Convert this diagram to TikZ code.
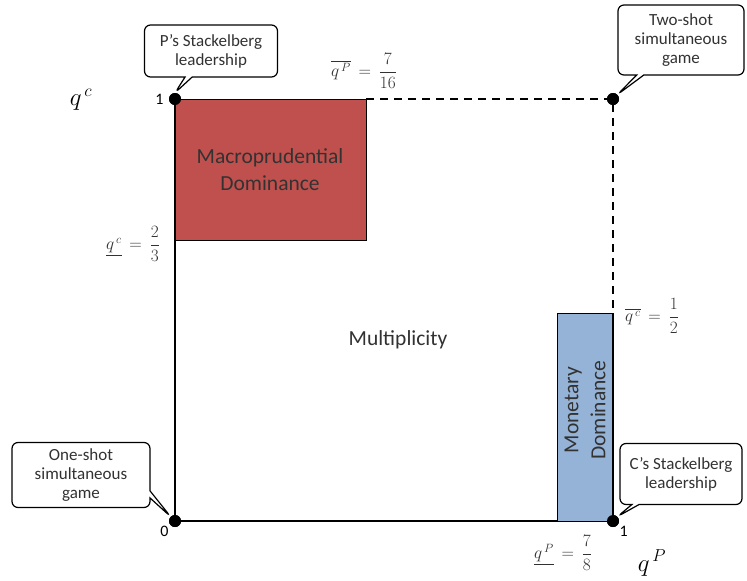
\documentclass[tikz,border=0pt]{standalone}
\usepackage{amsmath}
\usepackage{fontspec}
\setmainfont{Carlito}
\usetikzlibrary{shapes.callouts,positioning}
\definecolor{domred}{RGB}{192,80,77}
\definecolor{domblue}{RGB}{149,179,215}
\definecolor{txt}{RGB}{50,50,50}

\begin{document}
\begin{tikzpicture}[x=1pt,y=1pt,yscale=-1,
  dot/.style={circle,fill=black,inner sep=0pt,minimum size=12pt},
  bubble/.style={rectangle callout,draw,line width=1.2pt,rounded corners=6pt,fill=white,
    align=center,inner sep=2pt,text=txt,font=\fontsize{17}{19}\selectfont},
  lbl/.style={inner sep=1pt,font=\fontsize{16}{18}\selectfont},
  eqn/.style={inner sep=1pt,text=txt,font=\fontsize{16.5}{18}\selectfont}]
\useasboundingbox (0,0) rectangle (747,581);

%Shape: Corners of the unit square
\node[dot] (o) at (175,521) {};
\node[dot] (tl) at (175,99) {};
\node[dot] (tr) at (613,99) {};
\node[dot] (br) at (613,521) {};
\coordinate (pbar) at (366,99);
\coordinate (cbar) at (613,313);

%Straight Lines: axes and bounds
\draw[line width=1.6pt] (tl.center) -- (o.center) -- (br.center);
\draw[line width=1.6pt,dashed,dash pattern=on 8pt off 6pt] (pbar) -- (tr.center) -- (cbar);

%Shape: Macroprudential region
\draw[fill=domred,line width=1pt] (175,99) rectangle (366,240);
%Shape: Monetary region
\draw[fill=domblue,line width=1pt] (557,313) rectangle (613,521);
\draw[line width=1.6pt] (cbar) -- (br.center);

% redraw dots on top
\foreach \n in {o,tl,tr,br} \fill (\n) circle (6pt);

% Text Node
\node[font=\fontsize{21.5}{27}\selectfont,text=txt,align=center] (macro) at (270,170) {Macroprudential\\Dominance};
% Text Node
\node[font=\fontsize{21.5}{27}\selectfont,text=txt,align=center,rotate=90] (mon) at (585,410) {Monetary\\Dominance};
% Text Node
\node[font=\fontsize{21.5}{24}\selectfont,text=txt] (mult) at (398,340) {Multiplicity};

% Text Node
\node[font=\fontsize{27}{27}\selectfont,inner sep=0pt] (qc) at (81,100) {$q^{\,c}$};
% Text Node
\node[font=\fontsize{27}{27}\selectfont,inner sep=0pt] (qp) at (652,563) {$q^{\,P}$};
% Text Node
\node[lbl,left=4pt of tl] (one) {1};
\node[lbl,below left=0pt and 1pt of o] (zero) {0};
\node[lbl,below right=0pt and 1pt of br] (onep) {1};

% Text Node
\node[eqn] (pup) at (364,71) {$\overline{q^{\,P}}\,=\,\dfrac{7}{16}$};
% Text Node
\node[eqn] (clow) at (133,244) {$\underline{q^{\,c}}\,=\,\dfrac{2}{3}$};
% Text Node
\node[eqn] (cup) at (652,316) {$\overline{q^{\,c}}\,=\,\dfrac{1}{2}$};
% Text Node
\node[eqn] (plow) at (563,553) {$\underline{q^{\,P}}\,=\,\dfrac{7}{8}$};

% Callouts
\node[bubble,minimum width=133pt,minimum height=52pt,callout absolute pointer={(tl.north)}] (lead p) at (211,51) {P’s Stackelberg\\leadership};
\node[bubble,minimum width=126pt,minimum height=70pt,callout absolute pointer={(tr.north east)}] (two) at (681,40) {Two-shot\\simultaneous\\game};
\node[bubble,minimum width=138pt,minimum height=65pt,callout absolute pointer={(o.north west)}] (oneshot) at (81,475) {One-shot\\simultaneous\\game};
\node[bubble,minimum width=122pt,minimum height=61pt,callout absolute pointer={(br.north east)}] (lead c) at (681,474) {C’s Stackelberg\\leadership};
\end{tikzpicture}
\end{document}
